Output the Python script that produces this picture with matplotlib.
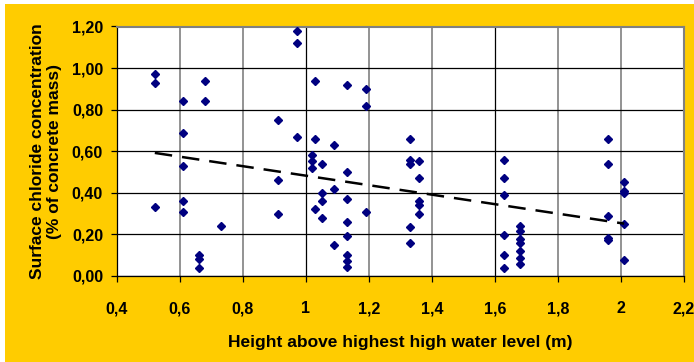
import numpy as np
import matplotlib.pyplot as plt
from matplotlib.ticker import FuncFormatter, MultipleLocator
from matplotlib.patches import Rectangle

# Height above highest high water level (m) and surface chloride (% of concrete mass)
height = [0.52, 0.52, 0.52,
          0.61, 0.61, 0.61, 0.61, 0.61,
          0.66, 0.66, 0.66,
          0.68, 0.68,
          0.73,
          0.91, 0.91, 0.91,
          0.97, 0.97, 0.97,
          1.02, 1.02, 1.02,
          1.03, 1.03, 1.03,
          1.05, 1.05, 1.05, 1.05,
          1.09, 1.09, 1.09,
          1.13, 1.13, 1.13, 1.13, 1.13, 1.13, 1.13, 1.13,
          1.19, 1.19, 1.19,
          1.33, 1.33, 1.33, 1.33, 1.33,
          1.36, 1.36, 1.36, 1.36, 1.36,
          1.63, 1.63, 1.63, 1.63, 1.63, 1.63,
          1.68, 1.68, 1.68, 1.68, 1.68, 1.68, 1.68,
          1.96, 1.96, 1.96, 1.96, 1.96,
          2.01, 2.01, 2.01, 2.01, 2.01]
chloride = [0.97, 0.93, 0.33,
            0.84, 0.69, 0.53, 0.36, 0.31,
            0.10, 0.08, 0.04,
            0.94, 0.84,
            0.24,
            0.75, 0.46, 0.30,
            1.18, 1.12, 0.67,
            0.58, 0.555, 0.52,
            0.94, 0.66, 0.32,
            0.54, 0.40, 0.36, 0.28,
            0.63, 0.42, 0.15,
            0.92, 0.50, 0.37, 0.26, 0.19, 0.10, 0.07, 0.045,
            0.90, 0.82, 0.31,
            0.66, 0.56, 0.54, 0.235, 0.16,
            0.555, 0.47, 0.36, 0.34, 0.30,
            0.56, 0.47, 0.39, 0.195, 0.10, 0.04,
            0.24, 0.215, 0.18, 0.16, 0.12, 0.085, 0.06,
            0.66, 0.54, 0.29, 0.185, 0.175,
            0.45, 0.41, 0.40, 0.25, 0.075]

plt.rcParams['font.family'] = ['Liberation Sans', 'DejaVu Sans']

fig = plt.figure(figsize=(6.94, 3.62), dpi=100, facecolor='#FFCC00')
# thin white strip along the left and top edges
fig.patches.append(Rectangle((0, 0), 5 / 694, 1, transform=fig.transFigure,
                             facecolor='white', edgecolor='none', zorder=-10))
fig.patches.append(Rectangle((0, 1 - 4 / 362), 1, 4 / 362, transform=fig.transFigure,
                             facecolor='white', edgecolor='none', zorder=-10))
ax = fig.add_axes([117 / 694, 86 / 362, 567 / 694, 249.5 / 362])
ax.set_facecolor('white')

x = np.array(height)
y = np.array(chloride)
ax.plot(x, y, 'D', color='#000080', markersize=4.5, zorder=3)

# linear trend line
k, b = np.polyfit(x, y, 1)
xt = np.array([x.min(), x.max()])
ax.plot(xt, k * xt + b, color='black', linewidth=1.8, dashes=(7, 4), zorder=4)

ax.set_xlim(0.4, 2.2)
ax.set_ylim(0, 1.2)
ax.xaxis.set_major_locator(MultipleLocator(0.2))
ax.yaxis.set_major_locator(MultipleLocator(0.2))
ax.xaxis.set_major_formatter(FuncFormatter(lambda v, p: f'{v:.1f}'.rstrip('0').rstrip('.').replace('.', ',')))
ax.yaxis.set_major_formatter(FuncFormatter(lambda v, p: f'{v:.2f}'.replace('.', ',')))

ax.grid(axis='y', color='black', linewidth=0.9)
ax.grid(axis='x', color='#808080', linewidth=1.2)
ax.set_axisbelow(True)
for loc, gl in zip(ax.get_xticks(), ax.get_xgridlines()):
    if abs(loc - 1.0) < 1e-6 or abs(loc - 1.6) < 1e-6:
        gl.set_color('black')
        gl.set_linewidth(0.9)

for s in ('top', 'right'):
    ax.spines[s].set_color('#808080')
    ax.spines[s].set_linewidth(1.5)
for s in ('left', 'bottom'):
    ax.spines[s].set_color('black')
    ax.spines[s].set_linewidth(0.9)

ax.tick_params(direction='out', length=4, width=0.9, labelsize=11.5)
ax.tick_params(axis='y', pad=6)
ax.tick_params(axis='x', pad=14)
for lbl in ax.get_xticklabels() + ax.get_yticklabels():
    lbl.set_fontweight('bold')

ax.set_xlabel('Height above highest high water level (m)', fontsize=12.5,
              fontweight='bold', labelpad=14)
ax.set_ylabel('Surface chloride concentration\n(% of concrete mass)', fontsize=12.5,
              fontweight='bold', labelpad=7, linespacing=1.2)

fig.savefig('out.png', dpi=100, facecolor=fig.get_facecolor())
